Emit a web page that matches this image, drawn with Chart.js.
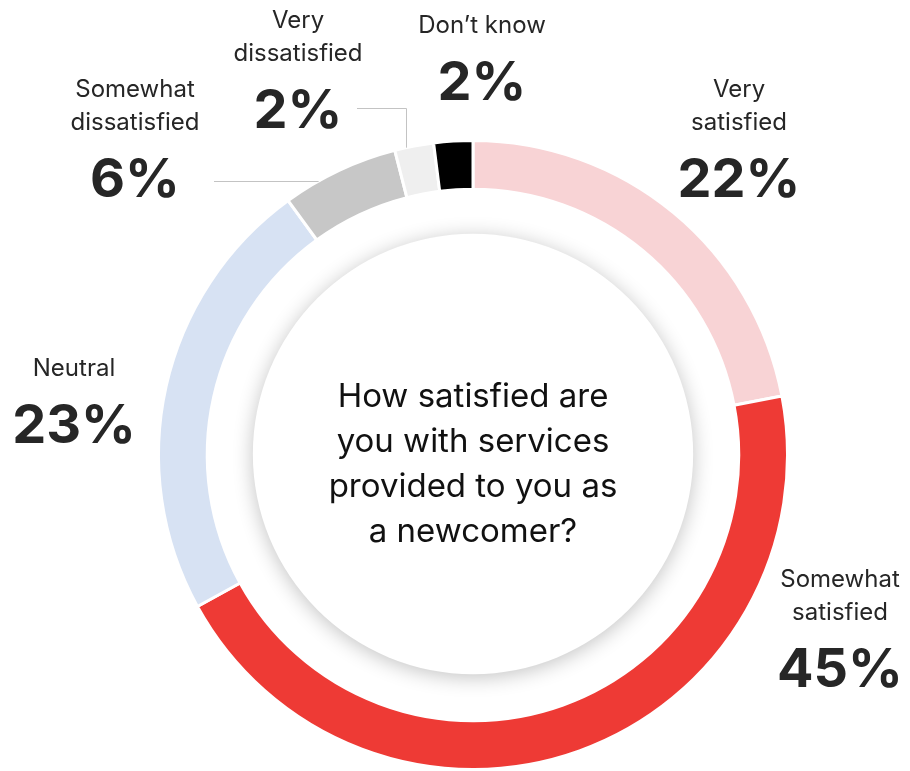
<!DOCTYPE html>
<html>
<head>
<meta charset="utf-8">
<script src="https://cdn.jsdelivr.net/npm/chart.js@4.4.1/dist/chart.umd.min.js"></script>
<style>
  html, body { margin: 0; padding: 0; background: #ffffff; }
  #wrap { width: 910px; height: 771px; position: relative; }
</style>
</head>
<body>
<div id="wrap"><canvas id="satisfaction"></canvas></div>
<script>
// survey answers, clockwise from 12 o'clock
var categories = ['Very satisfied', 'Somewhat satisfied', 'Neutral', 'Somewhat dissatisfied', 'Very dissatisfied', 'Don\u2019t know'];
var shares = [22, 45, 23, 6, 2, 2];
var nameLines = [['Very', 'satisfied'], ['Somewhat', 'satisfied'], ['Neutral'], ['Somewhat', 'dissatisfied'], ['Very', 'dissatisfied'], ['Don\u2019t know']];
var question = ['How satisfied are', 'you with services', 'provided to you as', 'a newcomer?'];

var sliceColors = ['#f8d3d5', '#ee3a35', '#d7e2f3', '#c7c7c7', '#efefef', '#000000'];
var textColor = '#262626';
var leaderColor = '#c3c3c3';

// where each label's percentage baseline sits, relative to the ring centre
var labelSpots = [
  { dx: 266, dy: -258 },
  { dx: 367, dy: 232 },
  { dx: -399, dy: -12 },
  { dx: -338, dy: -258 },
  { dx: -175, dy: -327 },
  { dx: 9, dy: -355 }
];
// thin connector lines for the two small grey slices
var leaders = {
  3: { fromDx: -259, along: 0.3 },
  4: { fromDx: -116, dy: -347, along: 0.3 }
};

var labelsPlugin = {
  id: 'ringLabels',
  beforeDatasetsDraw: function (chart) {
    var arc = chart.getDatasetMeta(0).data[0];
    if (!arc) return;
    var ctx = chart.ctx;
    // soft white disc inside the ring
    ctx.save();
    ctx.beginPath();
    ctx.arc(arc.x, arc.y - 1, arc.outerRadius * 0.70, 0, Math.PI * 2);
    ctx.shadowColor = 'rgba(0,0,0,0.24)';
    ctx.shadowBlur = 20;
    ctx.shadowOffsetY = 3;
    ctx.fillStyle = '#ffffff';
    ctx.fill();
    ctx.restore();
  },
  afterDatasetsDraw: function (chart) {
    var meta = chart.getDatasetMeta(0);
    var ctx = chart.ctx;
    var cx = meta.data[0].x, cy = meta.data[0].y;

    ctx.save();
    // leader lines
    ctx.strokeStyle = leaderColor;
    ctx.lineWidth = 1;
    Object.keys(leaders).forEach(function (k) {
      var a = meta.data[k];
      var L = leaders[k];
      var ang = a.startAngle + (a.endAngle - a.startAngle) * L.along;
      var ex = a.x + a.outerRadius * Math.cos(ang);
      var ey = a.y + a.outerRadius * Math.sin(ang);
      var ly = L.dy !== undefined ? cy + L.dy : ey;
      ctx.beginPath();
      ctx.moveTo(cx + L.fromDx, Math.round(ly) + 0.5);
      ctx.lineTo(Math.round(ex) + 0.5, Math.round(ly) + 0.5);
      ctx.lineTo(Math.round(ex) + 0.5, ey);
      ctx.stroke();
    });

    // category names and percentages
    ctx.textAlign = 'center';
    ctx.textBaseline = 'alphabetic';
    ctx.fillStyle = textColor;
    shares.forEach(function (v, i) {
      var s = labelSpots[i];
      var x = cx + s.dx, y = cy + s.dy;
      ctx.font = 'bold 54px Inter';
      ctx.fillText(v + '%', x, y);
      ctx.font = '24px Inter';
      var lines = nameLines[i];
      for (var j = 0; j < lines.length; j++) {
        var by = y - 67 - (lines.length - 1 - j) * 33;
        ctx.fillText(lines[j], x, by);
      }
    });

    // question in the middle
    ctx.fillStyle = '#111111';
    ctx.font = '33px Inter';
    question.forEach(function (line, i) {
      ctx.fillText(line, cx, cy - 48 + i * 45);
    });
    ctx.restore();
  }
};

new Chart(document.getElementById('satisfaction'), {
  type: 'doughnut',
  data: {
    labels: categories,
    datasets: [{
      data: shares,
      backgroundColor: sliceColors,
      borderColor: '#ffffff',
      borderWidth: 3
    }]
  },
  options: {
    responsive: true,
    maintainAspectRatio: false,
    animation: false,
    cutout: '84.5%',
    layout: { padding: { left: 157, right: 121, top: 139, bottom: 0 } },
    plugins: {
      legend: { display: false },
      tooltip: { enabled: false }
    }
  },
  plugins: [labelsPlugin]
});
</script>
</body>
</html>
